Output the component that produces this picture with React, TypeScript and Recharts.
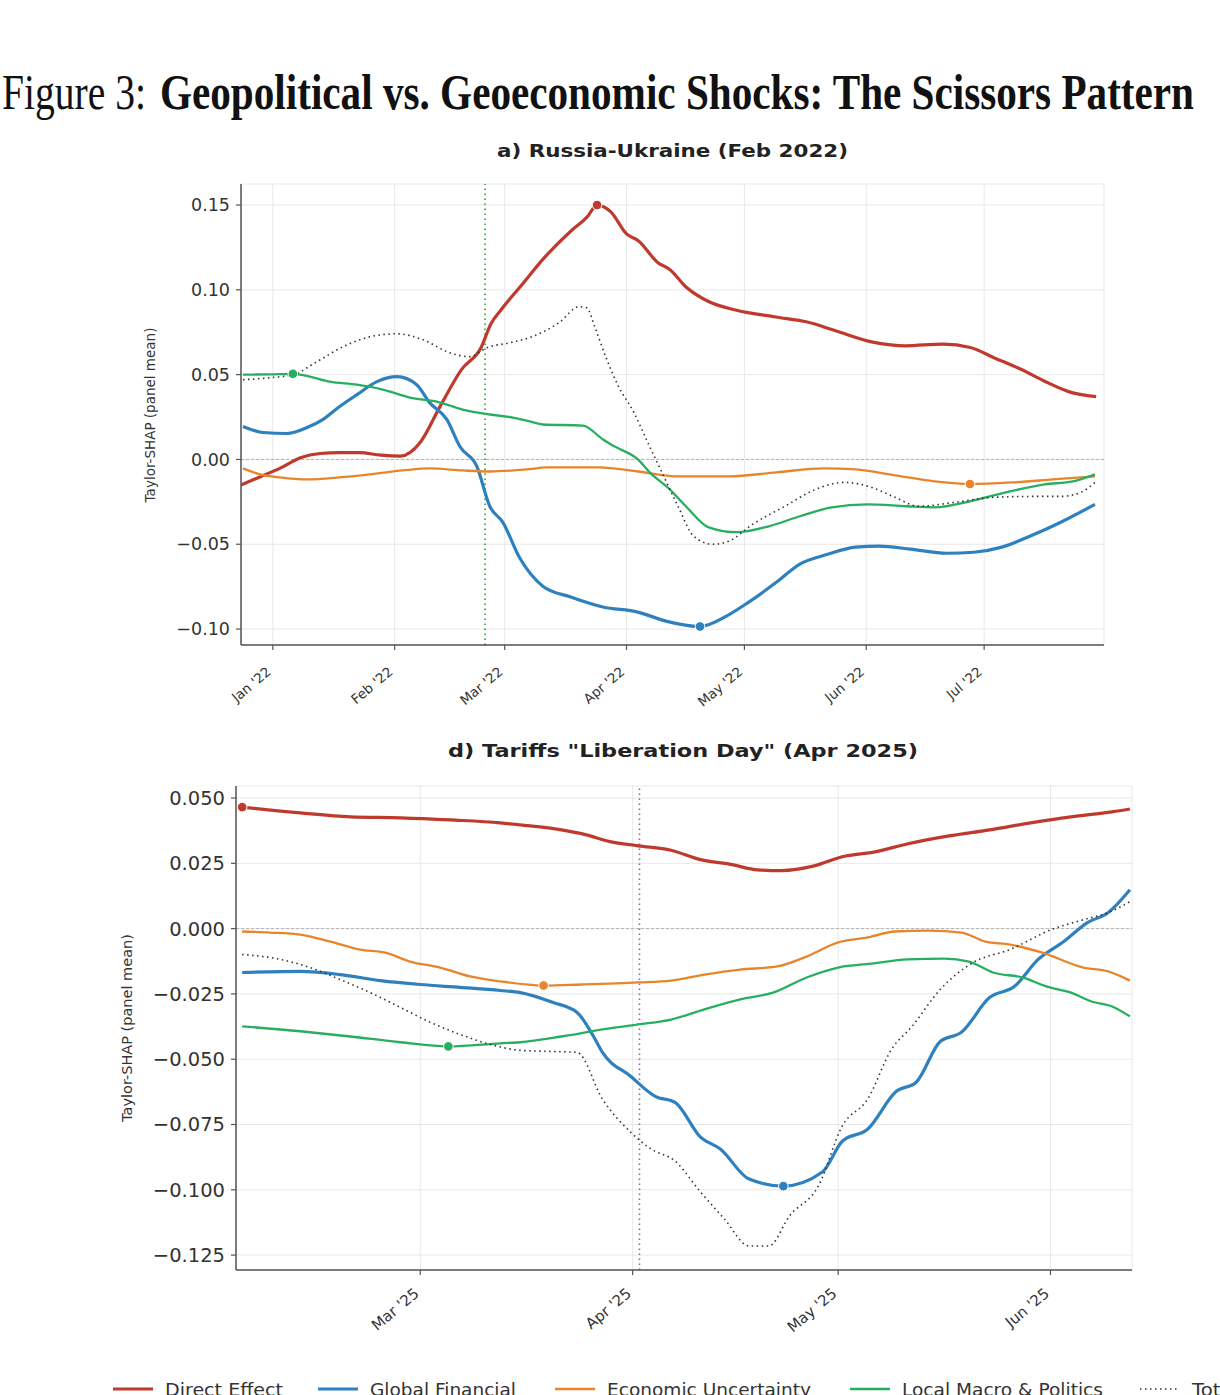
import React from "react";
import {
  CartesianGrid,
  Line,
  LineChart,
  ReferenceDot,
  ReferenceLine,
  XAxis,
  YAxis
} from "recharts";

type Pt = [number, number];

// ---- panel a: Russia-Ukraine, x = days since 1 Jan 2022 ----
const redA: Pt[] = [
  [-8, -0.015], [-3, -0.01], [2, -0.005], [7, 0.001], [12, 0.0035], [17, 0.004],
  [22, 0.004], [27.5, 0.0025], [32.5, 0.002], [37.5, 0.01], [42.5, 0.031], [48, 0.053],
  [53, 0.066], [55.5, 0.08], [58, 0.088], [63, 0.102], [69.5, 0.12], [76, 0.135],
  [80, 0.143], [82.5, 0.15], [86, 0.146], [90, 0.133], [93, 0.129], [98, 0.116],
  [101, 0.112], [105, 0.102], [111, 0.093], [118, 0.088], [128, 0.084], [136, 0.081],
  [143, 0.076], [153, 0.069], [161, 0.067], [170.5, 0.068], [177.5, 0.066], [183.5, 0.06],
  [190.5, 0.053], [196.5, 0.046], [202.5, 0.04], [209.5, 0.037]
];
const blueA: Pt[] = [
  [-7.6, 0.0194], [-2.5, 0.0159], [3.6, 0.0153], [8.7, 0.0188], [12.7, 0.0235], [17, 0.0312],
  [21.4, 0.0382], [26.5, 0.0459], [31.6, 0.0488], [36.6, 0.0441], [39.9, 0.0335], [44.3, 0.0235],
  [47.6, 0.0076], [51.9, -0.004], [55.2, -0.0276], [58.5, -0.037], [62.8, -0.058], [68.7, -0.0747],
  [75.8, -0.0811], [84, -0.087], [92.9, -0.09], [100, -0.0953], [108.7, -0.0985], [115, -0.0929],
  [121.1, -0.0841], [128.2, -0.0723], [134.1, -0.0617], [141.2, -0.0559], [148.3, -0.0517],
  [154.2, -0.0511], [162.3, -0.0529], [171.5, -0.0553], [178.4, -0.0547], [185.5, -0.0517],
  [192.6, -0.0453], [200.5, -0.037], [209.2, -0.0265]
];
const orangeA: Pt[] = [
  [-7.6, -0.0053], [-3.3, -0.0088], [1.8, -0.0106], [8.7, -0.0118], [17, -0.0106], [24.7, -0.0088],
  [33.1, -0.0065], [39.9, -0.0053], [48.3, -0.0065], [55.2, -0.0071], [64.6, -0.0059], [69.7, -0.0047],
  [83, -0.0047], [92.9, -0.0071], [103.1, -0.01], [116, -0.01], [128.2, -0.0076], [140.2, -0.0053],
  [148.3, -0.0059], [158.3, -0.0094], [168.4, -0.0129], [177.4, -0.0145], [188.5, -0.0135],
  [198.5, -0.0118], [209.2, -0.01]
];
const greenA: Pt[] = [
  [-7.6, 0.05], [-0.8, 0.0502], [5.1, 0.0505], [9.4, 0.0488], [14.5, 0.0459], [21.4, 0.0441],
  [28, 0.0412], [34.9, 0.0365], [41.7, 0.0341], [48.3, 0.0294], [55.2, 0.0265], [61.1, 0.0247],
  [65.4, 0.0224], [68.7, 0.0206], [78.9, 0.02], [84, 0.0118], [87, 0.0076], [92.9, 0],
  [95.9, -0.0076], [101, -0.0176], [105.1, -0.0276], [110.9, -0.04], [118.1, -0.0429],
  [126.2, -0.0394], [134.1, -0.0335], [142.2, -0.0282], [151.4, -0.0265], [161.3, -0.0276],
  [168.4, -0.0282], [177.4, -0.0247], [186.5, -0.0194], [196.4, -0.0147], [203.6, -0.0129],
  [209.2, -0.0088]
];
const totalA: Pt[] = [
  [-7.6, 0.047], [-0.8, 0.0482], [5.1, 0.05], [11.2, 0.0576], [17.8, 0.0664], [24.7, 0.0723],
  [31.6, 0.0741], [38.2, 0.0706], [45, 0.0629], [50.1, 0.0606], [54.5, 0.0659], [60.3, 0.0688],
  [65.9, 0.0723], [72.8, 0.0806], [77.9, 0.09], [79.9, 0.0894], [81.9, 0.0782], [85, 0.0588],
  [88, 0.0429], [91.9, 0.0276], [95.4, 0.01], [99, -0.0076], [103.1, -0.0276], [107.1, -0.0453],
  [112, -0.05], [116, -0.0482], [122.1, -0.0382], [130.3, -0.0276], [138.2, -0.0176],
  [145.3, -0.0135], [152.4, -0.0165], [158.3, -0.0223], [164.4, -0.0276], [173.5, -0.0253],
  [183.5, -0.0223], [193.6, -0.0218], [200.5, -0.0218], [205.6, -0.0194], [209.2, -0.0135]
];
const monthTicksA = [0, 31, 59, 90, 120, 151, 181];
const monthLabelsA = ["Jan '22", "Feb '22", "Mar '22", "Apr '22", "May '22", "Jun '22", "Jul '22"];
const yTicksA = [-0.1, -0.05, 0, 0.05, 0.1, 0.15];
const eventDayA = 54; // 24 Feb 2022

// ---- panel d: Liberation Day tariffs, x = days since 1 Mar 2025 ----
const redB: Pt[] = [
  [-26, 0.0465], [-17.5, 0.0443], [-10.2, 0.0428], [-2.9, 0.0424], [4.4, 0.0416], [11.7, 0.0405],
  [14.6, 0.0397], [20.6, 0.0378], [24.1, 0.036], [27.7, 0.0333], [31.8, 0.0317], [36.6, 0.03],
  [40.9, 0.0264], [45.5, 0.0245], [49.2, 0.0225], [52.7, 0.0222], [57.5, 0.024], [61.6, 0.0275],
  [66.4, 0.0294], [71.2, 0.0325], [77.2, 0.0355], [83.1, 0.0378], [89.1, 0.0405], [95, 0.0428],
  [101, 0.0447], [103.6, 0.0458]
];
const blueB: Pt[] = [
  [-26, -0.0168], [-17.5, -0.0164], [-11.7, -0.0176], [-5.8, -0.0199], [0, -0.0214], [5.8, -0.0225],
  [11.7, -0.0237], [14.6, -0.0245], [19.4, -0.0283], [22.9, -0.0321], [25.3, -0.0413], [26.6, -0.0474],
  [30.7, -0.0565], [34.3, -0.0642], [37.2, -0.0665], [40.9, -0.0798], [43.8, -0.0844], [48, -0.0959],
  [53, -0.0986], [58.7, -0.0932], [61.6, -0.0814], [65.3, -0.0768], [69.5, -0.0623], [72.4, -0.0588],
  [75.9, -0.0432], [79, -0.0397], [83.1, -0.0264], [86.7, -0.0222], [90.2, -0.0118], [93.9, -0.005],
  [97.4, 0.0023], [100.4, 0.0061], [103.6, 0.0149]
];
const orangeB: Pt[] = [
  [-26, -0.0011], [-21.9, -0.0015], [-17.5, -0.0023], [-13.1, -0.005], [-8.8, -0.008], [-5.1, -0.0092],
  [-1.5, -0.0126], [2.9, -0.0149], [7.3, -0.0183], [11.7, -0.0202], [18, -0.0218], [23.5, -0.0214],
  [31.8, -0.0206], [36.6, -0.0199], [41.5, -0.0176], [46.7, -0.0157], [52.1, -0.0145], [56.4, -0.0107],
  [61, -0.0053], [65.3, -0.0034], [69.3, -0.0011], [74.2, -0.0008], [79, -0.0015], [82.5, -0.005],
  [86.1, -0.0061], [90.8, -0.0092], [96.8, -0.0149], [100.4, -0.0164], [103.6, -0.0199]
];
const greenB: Pt[] = [
  [-26, -0.0374], [-17.5, -0.0393], [-10.2, -0.0413], [-2.9, -0.0435], [4.1, -0.0451], [11.7, -0.0439],
  [14.6, -0.0435], [20.6, -0.0413], [26.6, -0.0386], [31.8, -0.0367], [36.6, -0.0348], [41.5, -0.0309],
  [46.7, -0.0271], [51.5, -0.0245], [56.4, -0.0187], [61, -0.0149], [65.8, -0.0134], [71.2, -0.0118],
  [76.5, -0.0115], [80.1, -0.0126], [83.6, -0.0168], [87.9, -0.0187], [91.5, -0.0222], [95, -0.0245],
  [98, -0.0279], [101, -0.0298], [103.6, -0.0336]
];
const totalB: Pt[] = [
  [-26, -0.0099], [-20.4, -0.0118], [-16.1, -0.0149], [-11.7, -0.0195], [-7.3, -0.0245], [-2.9, -0.0302],
  [1.5, -0.0359], [5.8, -0.0405], [10.2, -0.0443], [14.6, -0.0466], [18.8, -0.047], [22.9, -0.0474],
  [26.6, -0.0653], [30.7, -0.0779], [33.7, -0.0844], [37.2, -0.089], [40.9, -0.1008], [44.4, -0.1112],
  [48, -0.1215], [50.9, -0.1215], [53.9, -0.11], [58.1, -0.0986], [61.6, -0.0756], [65.3, -0.0653],
  [68.8, -0.0462], [71.8, -0.0374], [75.9, -0.0233], [80.7, -0.013], [86.1, -0.008], [92.1, -0.0004],
  [96.8, 0.0034], [100.4, 0.0061], [103.6, 0.0103]
];
const monthTicksB = [0, 31, 61, 92];
const monthLabelsB = ["Mar '25", "Apr '25", "May '25", "Jun '25"];
const yTicksB = [-0.125, -0.1, -0.075, -0.05, -0.025, 0, 0.025, 0.05];
const eventDayB = 32; // 2 Apr 2025

const seriesNames = ["Direct Effect", "Global Financial", "Economic Uncertainty", "Local Macro & Politics", "Total"];

// styles
const seriesStyle = [
  { color: "#bf3a2d", width: 3.2 },
  { color: "#2e80bf", width: 3.2 },
  { color: "#e8852a", width: 2.3 },
  { color: "#27ae60", width: 2.3 },
  { color: "#333333", width: 1.6, dash: "1.5 3.5" }
];
const SANS = "DejaVu Sans, Verdana, sans-serif";
const SERIF = "Liberation Serif, Times New Roman, serif";
const FRAME = "#555";

const toRows = (pts: Pt[]) => pts.map(([d, v]) => ({ d, v }));
const peakOf = (pts: Pt[]) => pts.reduce((best, p) => (Math.abs(p[1]) > Math.abs(best[1]) ? p : best), pts[0]);
const fmtY = (dec: number) => (v: number) => {
  const s = Math.abs(v).toFixed(dec);
  return v < -1e-9 ? "\u2212" + s : s;
};

function RotTick(props: any) {
  const { x, y, payload, ticks, labels, fontSize, drop } = props;
  const label = labels[ticks.indexOf(payload.value)];
  const tx = x - 7;
  const ty = y + drop;
  return (
    <text
      x={tx}
      y={ty}
      dy={fontSize * 0.7}
      transform={`rotate(-40 ${tx} ${ty})`}
      textAnchor="end"
      fontSize={fontSize}
      fontFamily={SANS}
      fill="#333"
    >
      {label}
    </text>
  );
}

type PanelProps = {
  top: number;
  height: number;
  margin: { top: number; right: number; bottom: number; left: number };
  yWidth: number;
  xHeight: number;
  xDomain: [number, number];
  yDomain: [number, number];
  xTicks: number[];
  xLabels: string[];
  yTicks: number[];
  decimals: number;
  eventDay: number;
  eventColor: string;
  series: Pt[][];
  yFont: number;
  xFont: number;
  xDrop: number;
};

function Panel(p: PanelProps) {
  return (
    <div style={{ position: "absolute", left: 0, top: p.top }}>
      <LineChart width={1220} height={p.height} margin={p.margin}>
        <CartesianGrid stroke="#e8e8e8" strokeWidth={1} />
        <XAxis
          dataKey="d"
          type="number"
          domain={p.xDomain}
          allowDataOverflow
          ticks={p.xTicks}
          interval={0}
          height={p.xHeight}
          tickSize={5}
          tickLine={{ stroke: FRAME, strokeWidth: 1.2 }}
          axisLine={{ stroke: FRAME, strokeWidth: 1.5 }}
          tick={<RotTick ticks={p.xTicks} labels={p.xLabels} fontSize={p.xFont} drop={p.xDrop} />}
        />
        <XAxis
          xAxisId="top"
          orientation="top"
          type="number"
          domain={p.xDomain}
          height={0}
          tick={false}
          tickLine={false}
          axisLine={{ stroke: FRAME, strokeWidth: 1.5 }}
        />
        <YAxis
          type="number"
          domain={p.yDomain}
          allowDataOverflow
          ticks={p.yTicks}
          interval={0}
          width={p.yWidth}
          tickSize={5}
          tickMargin={6}
          tickFormatter={fmtY(p.decimals)}
          tick={{ fontSize: p.yFont, fontFamily: SANS, fill: "#333" }}
          tickLine={{ stroke: FRAME, strokeWidth: 1.2 }}
          axisLine={{ stroke: FRAME, strokeWidth: 1.5 }}
        />
        <YAxis
          yAxisId="right"
          orientation="right"
          type="number"
          domain={p.yDomain}
          width={0}
          tick={false}
          tickLine={false}
          axisLine={{ stroke: FRAME, strokeWidth: 1.5 }}
        />
        <ReferenceLine y={0} stroke="#aaa" strokeWidth={0.9} strokeDasharray="3 2" />
        <ReferenceLine x={p.eventDay} stroke={p.eventColor} strokeWidth={1.6} strokeDasharray="1.5 3.5" />
        {p.series.map((pts, i) => (
          <Line
            key={seriesNames[i]}
            data={toRows(pts)}
            dataKey="v"
            name={seriesNames[i]}
            type="monotone"
            stroke={seriesStyle[i].color}
            strokeWidth={seriesStyle[i].width}
            strokeDasharray={seriesStyle[i].dash}
            dot={false}
            isAnimationActive={false}
          />
        ))}
        {p.series.slice(0, 4).map((pts, i) => {
          const pk = peakOf(pts);
          return (
            <ReferenceDot
              key={"pk" + i}
              x={pk[0]}
              y={pk[1]}
              r={4.8}
              fill={seriesStyle[i].color}
              stroke="#fff"
              strokeWidth={1}
              ifOverflow="visible"
            />
          );
        })}
      </LineChart>
    </div>
  );
}

const legendX = [113, 318, 555, 850, 1140];
const legendTextW = [118, 146, 204, 201, 46];

export default function App() {
  return (
    <div style={{ position: "absolute", left: 0, top: 0, width: 1220, height: 1395, overflow: "hidden", background: "#fff" }}>
      <Panel
        top={160}
        height={560}
        margin={{ top: 24, right: 116, bottom: 15, left: 161 }}
        yWidth={80}
        xHeight={60}
        xDomain={[-8.1, 211.5]}
        yDomain={[-0.1094, 0.1624]}
        xTicks={monthTicksA}
        xLabels={monthLabelsA}
        yTicks={yTicksA}
        decimals={2}
        eventDay={eventDayA}
        eventColor="#2ca02c"
        series={[redA, blueA, orangeA, greenA, totalA]}
        yFont={17.5}
        xFont={13.5}
        xDrop={14}
      />
      <Panel
        top={770}
        height={570}
        margin={{ top: 16, right: 88, bottom: 15, left: 146 }}
        yWidth={90}
        xHeight={55}
        xDomain={[-26.9, 103.9]}
        yDomain={[-0.1307, 0.0546]}
        xTicks={monthTicksB}
        xLabels={monthLabelsB}
        yTicks={yTicksB}
        decimals={3}
        eventDay={eventDayB}
        eventColor="#9b59b6"
        series={[redB, blueB, orangeB, greenB, totalB]}
        yFont={19.5}
        xFont={15}
        xDrop={10}
      />
      <svg width={1220} height={1395} style={{ position: "absolute", left: 0, top: 0, pointerEvents: "none" }}>
        <g transform="translate(0 109) scale(1 1.38)">
          <text x={2} y={0} fontFamily={SERIF} fontSize={36} fill="#111" textLength={144} lengthAdjust="spacingAndGlyphs">
            Figure 3:
          </text>
          <text x={160} y={0} fontFamily={SERIF} fontWeight="bold" fontSize={36} fill="#111" textLength={1034} lengthAdjust="spacingAndGlyphs">
            Geopolitical vs. Geoeconomic Shocks: The Scissors Pattern
          </text>
        </g>
        <text x={497} y={157} fontFamily={SANS} fontWeight="bold" fontSize={18} fill="#222" textLength={351} lengthAdjust="spacingAndGlyphs">
          a) Russia-Ukraine (Feb 2022)
        </text>
        <text x={448} y={757} fontFamily={SANS} fontWeight="bold" fontSize={18} fill="#222" textLength={470} lengthAdjust="spacingAndGlyphs">
          d) Tariffs "Liberation Day" (Apr 2025)
        </text>
        <text transform="translate(155 415) rotate(-90)" textAnchor="middle" fontFamily={SANS} fontSize={13.5} fill="#333">
          Taylor-SHAP (panel mean)
        </text>
        <text transform="translate(132 1028) rotate(-90)" textAnchor="middle" fontFamily={SANS} fontSize={14.5} fill="#333">
          Taylor-SHAP (panel mean)
        </text>
        {seriesNames.map((name, i) => (
          <g key={name}>
            <line
              x1={legendX[i]}
              x2={legendX[i] + 40}
              y1={1389}
              y2={1389}
              stroke={seriesStyle[i].color}
              strokeWidth={seriesStyle[i].width}
              strokeDasharray={seriesStyle[i].dash}
            />
            <text x={legendX[i] + 52} y={1396} fontFamily={SANS} fontSize={17} fill="#333" textLength={legendTextW[i]} lengthAdjust="spacingAndGlyphs">
              {name}
            </text>
          </g>
        ))}
      </svg>
    </div>
  );
}
